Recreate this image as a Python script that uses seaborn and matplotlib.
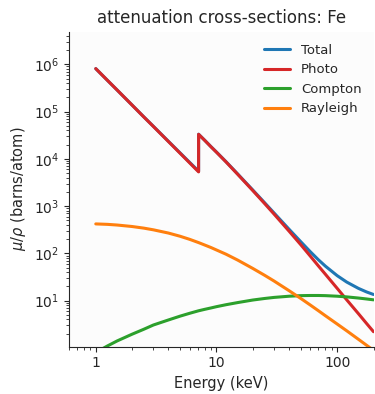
import pandas as pd
import matplotlib
matplotlib.use("Agg")
import matplotlib.pyplot as plt
import matplotlib.ticker as mticker
import seaborn as sns

# energies (keV), K-edge of Fe doubled at ~7.11 keV
energy = [1, 1.25, 1.5, 2, 2.5, 3, 4, 5, 6, 7.11, 7.112, 8, 9, 10, 12, 15, 20, 25, 30,
          40, 50, 60, 70, 80, 100, 120, 150, 175, 200]

# cross-sections in barns/atom
photo = [8.1e5, 4.57e5, 2.87e5, 1.37e5, 7.7e4, 4.85e4, 2.32e4, 1.31e4, 8.2e3, 5.3e3,
         3.3e4, 2.45e4, 1.8e4, 1.38e4, 8.6e3, 4.7e3, 2.13e3, 1.14e3, 678,
         294, 152, 87, 54, 36, 18.2, 10.4, 5.3, 3.3, 2.2]
compton = [0.8, 1.1, 1.4, 1.95, 2.48, 3.05, 3.9, 4.7, 5.4, 6.1,
           6.1, 6.55, 7.0, 7.45, 8.2, 9.1, 10.3, 11.1, 11.7,
           12.4, 12.75, 12.85, 12.85, 12.75, 12.4, 12.0, 11.35, 10.85, 10.4]
rayleigh = [420, 411, 398, 370, 342, 315, 269, 230, 198, 169,
            169, 150, 133, 118, 96, 72, 48, 34.5, 26,
            16.2, 11.1, 8.05, 6.1, 4.78, 3.2, 2.3, 1.52, 1.14, 0.89]
total = [8.104e5, 4.574e5, 2.874e5, 1.374e5, 7.734e4, 4.882e4, 2.347e4, 1.3335e4, 8403, 5475,
         33175, 24657, 18140, 13926, 8704, 4781, 2188, 1185.6, 715.7,
         322.6, 175.9, 107.9, 72.95, 53.5, 33.8, 24.7, 18.17, 15.29, 13.49]

series = ["Total", "Photo", "Compton", "Rayleigh"]
colors = {"Total": "#1f77b4", "Photo": "#d62728", "Compton": "#2ca02c", "Rayleigh": "#ff7f0e"}

df = pd.concat([
    pd.DataFrame({"energy": energy, "value": vals, "kind": name})
    for name, vals in zip(series, [total, photo, compton, rayleigh])
], ignore_index=True)

sns.set_style("ticks")
plt.rcParams["font.family"] = ["DejaVu Sans"]
plt.rcParams["axes.edgecolor"] = "0.15"

fig = plt.figure(figsize=(3.75, 3.94), dpi=100)
ax = fig.add_axes([69 / 375, 47.3 / 394, 304.5 / 375, 315 / 394])
ax.set_facecolor("#fcfcfc")

sns.lineplot(data=df, x="energy", y="value", hue="kind", hue_order=series,
             palette=colors, estimator=None, sort=False, linewidth=2.2, ax=ax)

ax.set_xscale("log")
ax.set_yscale("log")
ax.set_xlim(0.6, 200)
ax.set_ylim(1.06, 4.9e6)
ax.xaxis.set_major_formatter(mticker.FuncFormatter(lambda v, p: f"{v:g}"))
ax.xaxis.set_minor_formatter(mticker.NullFormatter())
ax.yaxis.set_minor_formatter(mticker.NullFormatter())

ax.tick_params(which="major", length=3.5, width=0.8, labelsize=10, color="0.15")
ax.tick_params(which="minor", length=2, width=0.6, color="0.15")

ax.set_title("attenuation cross-sections: Fe", fontsize=12)
ax.set_xlabel("Energy (keV)", fontsize=10.5)
ax.set_ylabel(r"$\mu/\rho$ (barns/atom)", fontsize=10.5)
ax.legend(loc="upper right", frameon=False, fontsize=9.5, title=None)
sns.despine(ax=ax)

fig.savefig("out.png", dpi=100)
plt.close(fig)
